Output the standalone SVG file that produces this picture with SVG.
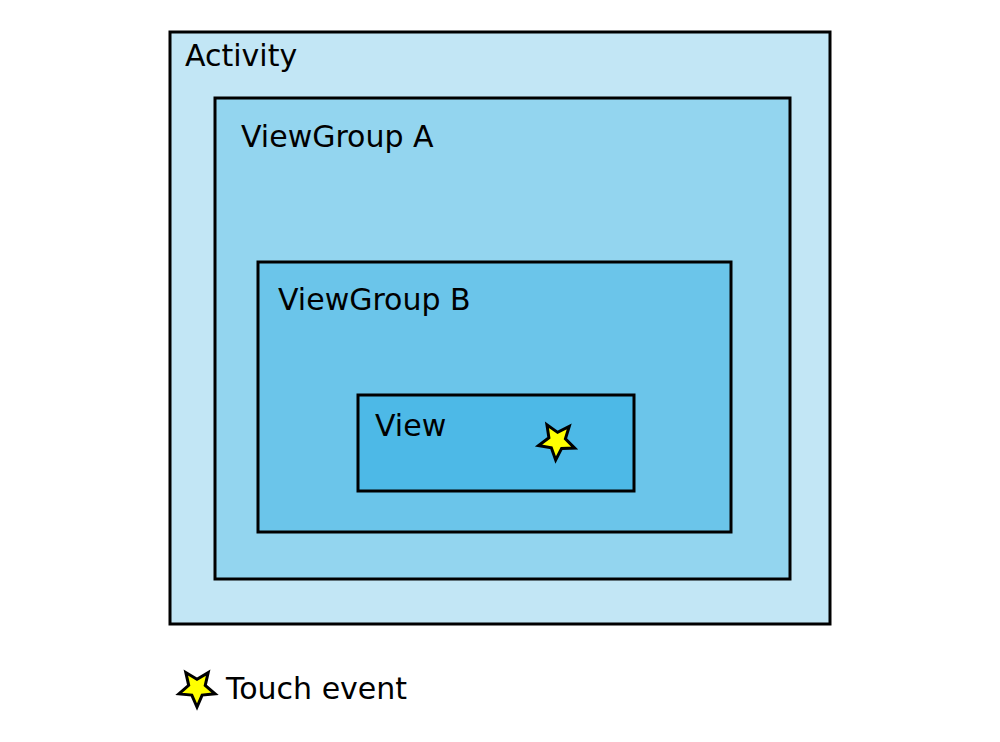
<svg xmlns="http://www.w3.org/2000/svg" width="1000" height="742" viewBox="0 0 1000 742">
<defs>
<style>
rect.box{stroke:#000;stroke-width:3}
text{font-family:"DejaVu Sans","Liberation Sans",sans-serif;font-size:30px;fill:#000}
.star{fill:#ffff00;stroke:#000;stroke-width:3;stroke-linejoin:miter}
</style>
<polygon id="starShape" points="0,-19 5.1,-7 18.1,-5.9 8.3,2.7 11.2,15.4 0,8.8 -11.2,15.4 -8.3,2.7 -18.1,-5.9 -5.1,-7"/>
</defs>
<rect width="1000" height="742" fill="#fff"/>
<g id="activity">
<rect class="box" x="170" y="32" width="660" height="592" fill="#c2e6f5"/>
<text x="185" y="66">Activity</text>
</g>
<g id="viewgroup-a">
<rect class="box" x="215" y="98" width="575" height="481" fill="#93d5ef"/>
<text x="241" y="147">ViewGroup A</text>
</g>
<g id="viewgroup-b">
<rect class="box" x="258" y="262" width="473" height="270" fill="#6bc5ea"/>
<text x="278" y="310">ViewGroup B</text>
</g>
<g id="view">
<rect class="box" x="358" y="395" width="276" height="96" fill="#4db9e7"/>
<text x="375" y="436">View</text>
<use href="#starShape" class="star" transform="translate(557,441) rotate(40)"/>
</g>
<g id="connectors"></g>
<g id="legend">
<use href="#starShape" class="star" transform="translate(197,688) rotate(36)"/>
<text x="226" y="699">Touch event</text>
</g>
</svg>
